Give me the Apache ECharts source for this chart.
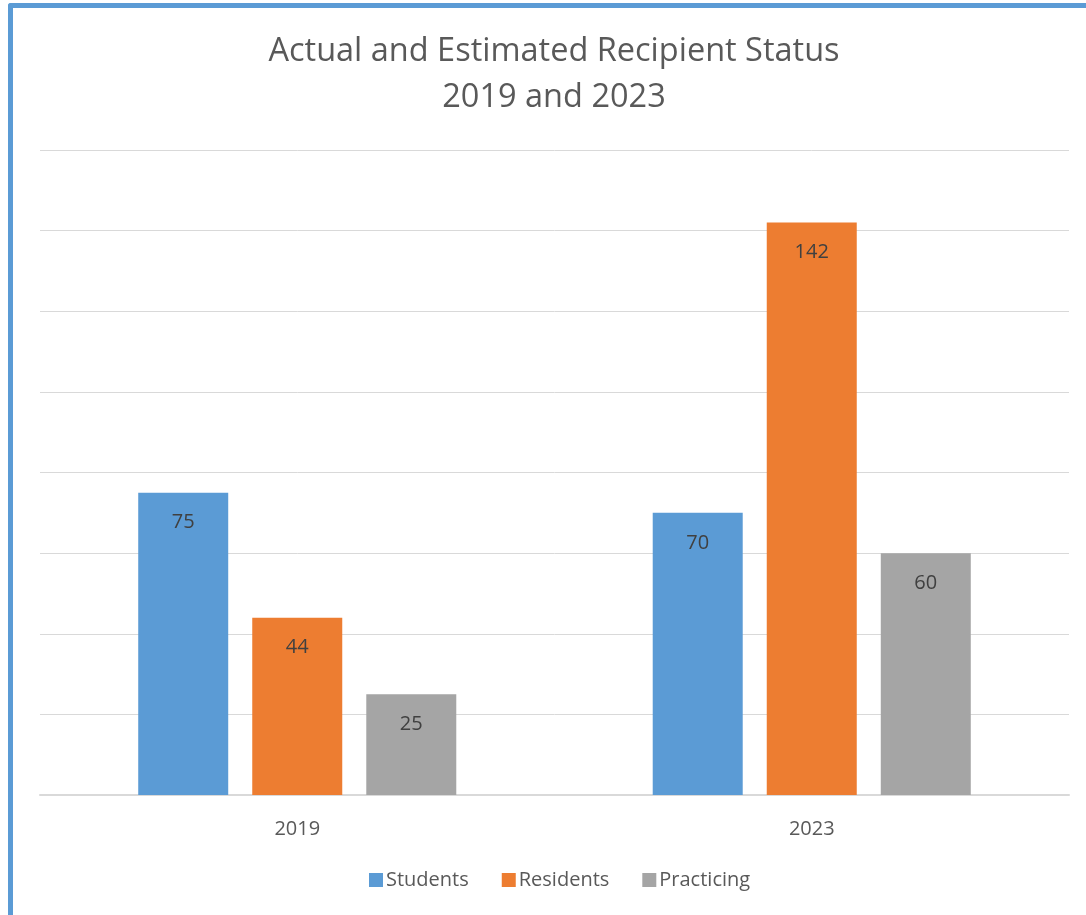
<!DOCTYPE html>
<html>
<head>
<meta charset="utf-8">
<script src="https://cdn.jsdelivr.net/npm/echarts@6/dist/echarts.min.js"></script>
<style>
  html, body { margin: 0; padding: 0; background: #fff; overflow: hidden; }
  .frame {
    position: absolute; left: 8px; top: 3px; width: 1200px; height: 1000px;
    border-left: 5px solid #5b9bd5; border-top: 5px solid #5b9bd5;
    border-top-left-radius: 3px;
  }
  #chart { position: absolute; left: 0; top: 0; width: 1086px; height: 915px; }
</style>
</head>
<body>
<div class="frame"></div>
<div id="chart"></div>
<script>
const categories = ['2019', '2023']
const students = [75, 70]
const residents = [44, 142]
const practicing = [25, 60]

const font = '"Open Sans", "DejaVu Sans", sans-serif'
const chart = echarts.init(document.getElementById('chart'))

const label = {
  show: true,
  position: 'insideTop',
  distance: 20,
  color: '#404040',
  fontSize: 20,
  fontFamily: font
}

chart.setOption({
  backgroundColor: 'transparent',
  title: {
    text: 'Actual and Estimated Recipient Status\n2019 and 2023',
    left: 549,
    textAlign: 'center',
    top: 24,
    textStyle: {
      color: '#595959',
      fontSize: 32.5,
      fontWeight: 'normal',
      fontFamily: font,
      lineHeight: 46
    }
  },
  legend: {
    bottom: 20,
    left: 364,
    itemWidth: 14,
    itemHeight: 14,
    itemGap: 33,
    icon: 'rect',
    textStyle: { color: '#595959', fontSize: 20, fontFamily: font, padding: [0, 0, 0, -2] }
  },
  grid: { left: 40, right: 17, top: 150, bottom: 120 },
  xAxis: {
    type: 'category',
    data: categories,
    axisLine: { lineStyle: { color: '#d9d9d9', width: 2 } },
    axisTick: { show: false },
    axisLabel: { color: '#595959', fontSize: 20, fontFamily: font, margin: 24 }
  },
  yAxis: {
    type: 'value',
    min: 0,
    max: 160,
    interval: 20,
    axisLabel: { show: false },
    axisLine: { show: false },
    axisTick: { show: false },
    splitLine: { lineStyle: { color: '#d9d9d9', width: 1 } }
  },
  series: [
    { name: 'Students', type: 'bar', data: students, barWidth: 90, barGap: '26.7%', itemStyle: { color: '#5b9bd5' }, label },
    { name: 'Residents', type: 'bar', data: residents, barWidth: 90, itemStyle: { color: '#ed7d31' }, label },
    { name: 'Practicing', type: 'bar', data: practicing, barWidth: 90, itemStyle: { color: '#a5a5a5' }, label }
  ]
})
</script>
</body>
</html>
